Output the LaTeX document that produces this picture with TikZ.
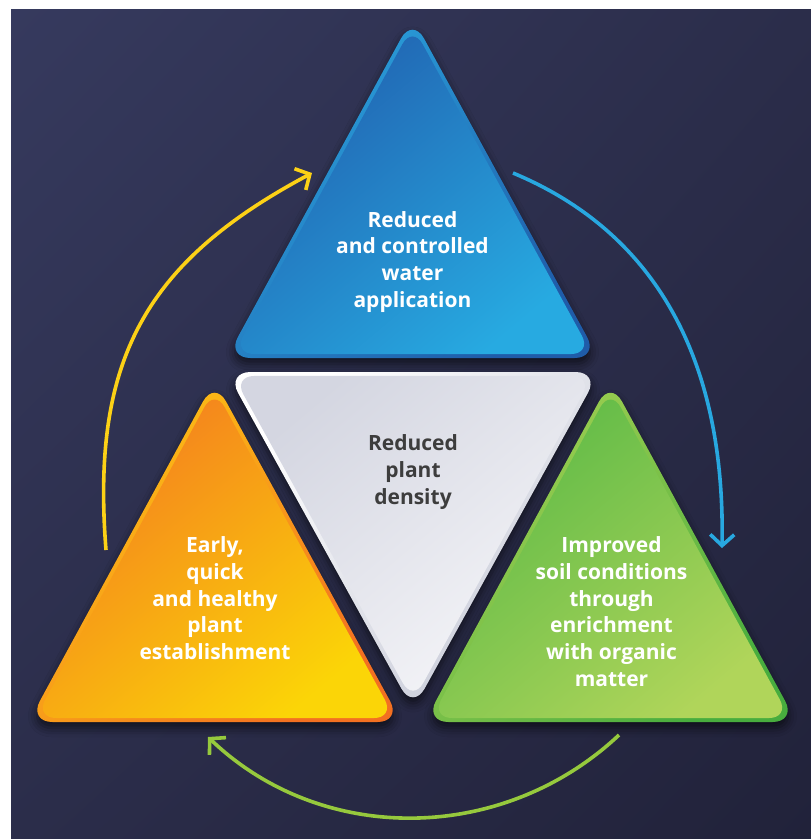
\documentclass[tikz,border=0pt]{standalone}
\usepackage{fontspec}
\setmainfont{Open Sans}
\usetikzlibrary{arrows.meta,shadows.blur,shadings}

% backdrop
\definecolor{bgTL}{HTML}{363A5E}
\definecolor{bgTR}{HTML}{2B2D4A}
\definecolor{bgBL}{HTML}{2B2D4A}
\definecolor{bgBR}{HTML}{21223A}
% blue triangle
\definecolor{blueRimL}{HTML}{2AA3DD}
\definecolor{blueRimD}{HTML}{1F5CA9}
\definecolor{blueTop}{HTML}{2160AF}
\definecolor{blueBot}{HTML}{27AAE1}
% orange triangle
\definecolor{orangeRimL}{HTML}{FDC513}
\definecolor{orangeRimD}{HTML}{F37021}
\definecolor{orangeTop}{HTML}{F47B20}
\definecolor{orangeBot}{HTML}{FBD507}
% green triangle
\definecolor{greenRimL}{HTML}{A5D152}
\definecolor{greenRimD}{HTML}{48AD3E}
\definecolor{greenTop}{HTML}{5AB946}
\definecolor{greenBot}{HTML}{B0D55A}
% white triangle
\definecolor{whiteRimL}{HTML}{FFFFFF}
\definecolor{whiteRimD}{HTML}{C5C8D6}
\definecolor{whiteTop}{HTML}{D4D6E1}
\definecolor{whiteBot}{HTML}{F6F6F9}
\definecolor{darkText}{HTML}{3D3D3D}
% cycle arrows
\definecolor{arrowYellow}{HTML}{FCD116}
\definecolor{arrowBlue}{HTML}{28A8E0}
\definecolor{arrowGreen}{HTML}{96C93D}

\begin{document}
\begin{tikzpicture}[x=1pt,y=-1pt,
  tririm/.style={rounded corners=24pt},
  triface/.style={rounded corners=21pt},
  trishadow/.style={blur shadow={shadow xshift=0pt, shadow yshift=-6pt,
      shadow blur radius=9pt, shadow opacity=60}},
  tritext/.style={font=\bfseries\fontsize{21}{26.7}\selectfont,
      align=center, text=white, inner sep=0pt, anchor=north},
  cyclearrow/.style={line width=3.6pt,
      -{Straight Barb[length=11pt,width=24pt,line width=3.6pt]}}
]
\useasboundingbox (0,0) rectangle (811,839);
\fill[white] (0,0) rectangle (811,839);
\shade[upper left=bgTL, upper right=bgTR, lower left=bgBL, lower right=bgBR]
  (11,9) rectangle (811,839);

% top triangle: water
\path[tririm, trishadow, top color=blueRimL, bottom color=blueRimD, shading angle=45]
  (412.5,17.4) -- (598.6,358) -- (226.4,358) -- cycle;
\path[triface, top color=blueTop, bottom color=blueBot, shading angle=40,
      scale around={0.964:(412.5,248)}]
  (412.5,17.4) -- (598.6,358) -- (226.4,358) -- cycle;

% centre triangle: plant density
\path[tririm, trishadow, top color=whiteRimL, bottom color=whiteRimD, shading angle=45]
  (226.5,372) -- (599.5,372) -- (413,709.6) -- cycle;
\path[triface, top color=whiteTop, bottom color=whiteBot, shading angle=40,
      scale around={0.964:(413,482)}]
  (226.5,372) -- (599.5,372) -- (413,709.6) -- cycle;

% left triangle: establishment
\path[tririm, trishadow, top color=orangeRimL, bottom color=orangeRimD, shading angle=45]
  (214.5,380.4) -- (401.6,722) -- (28.4,722) -- cycle;
\path[triface, top color=orangeTop, bottom color=orangeBot, shading angle=40,
      scale around={0.964:(214.5,612)}]
  (214.5,380.4) -- (401.6,722) -- (28.4,722) -- cycle;

% right triangle: soil
\path[tririm, trishadow, top color=greenRimL, bottom color=greenRimD, shading angle=45]
  (610.5,380.4) -- (796.6,722) -- (424.4,722) -- cycle;
\path[triface, top color=greenTop, bottom color=greenBot, shading angle=40,
      scale around={0.964:(610.5,612)}]
  (610.5,380.4) -- (796.6,722) -- (424.4,722) -- cycle;

% labels
\node[tritext] (water) at (412.5,211) {Reduced\\and controlled\\water\\application};
\node[tritext, text=darkText] (density) at (413,434.7) {Reduced\\plant\\density};
\node[tritext] (establish) at (215,536.7) {Early,\\quick\\and healthy\\plant\\establishment};
\node[tritext] (soil) at (611.5,536.7) {Improved\\soil conditions\\through\\enrichment\\with organic\\matter};

% cycle arrows
\coordinate (yStart) at (106,550);
\coordinate (yEnd) at (312,173);
\coordinate (bStart) at (513,173);
\coordinate (bEnd) at (722,548);
\coordinate (gStart) at (619,735);
\coordinate (gEnd) at (208,737);
\draw[cyclearrow, arrowYellow] (yStart) .. controls (91,360) and (145,262) .. (yEnd);
\draw[cyclearrow, arrowBlue] (bStart) .. controls (669,238) and (725,378) .. (bEnd);
\draw[cyclearrow, arrowGreen] (gStart) .. controls (503,844) and (322,846) .. (gEnd);
\end{tikzpicture}
\end{document}
